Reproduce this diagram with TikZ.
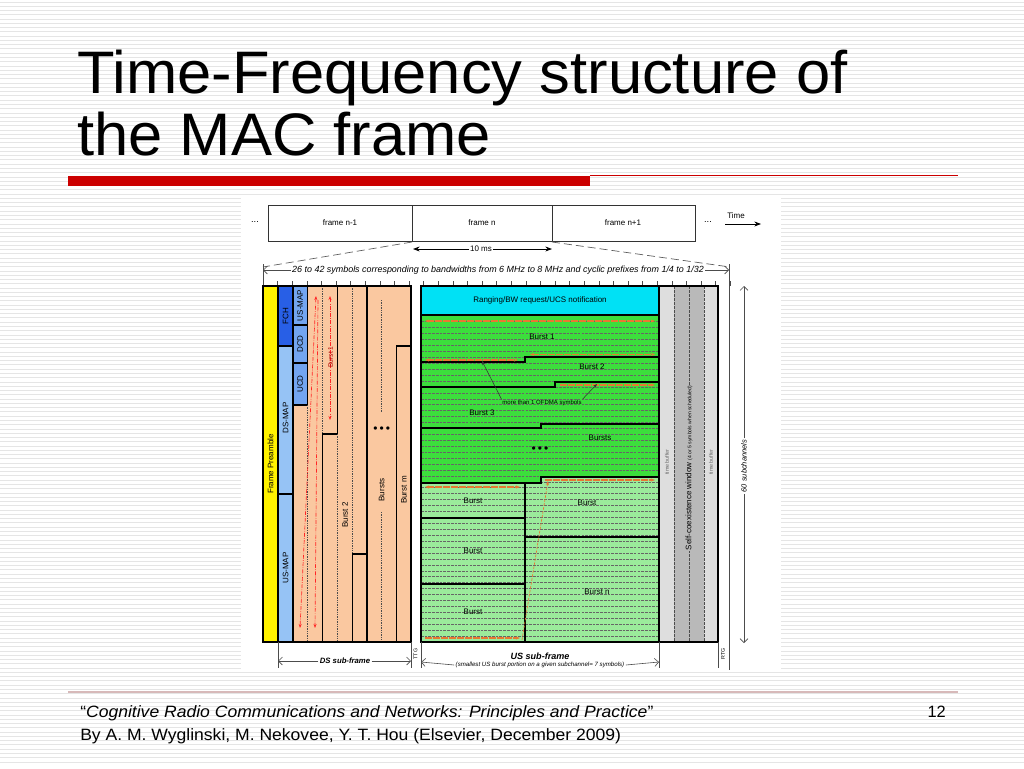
\documentclass[tikz,border=0pt]{standalone}
\usepackage{fontspec}
\setmainfont{Liberation Sans}
\usetikzlibrary{arrows.meta, positioning, calc}
\definecolor{slidered}{RGB}{204,0,0}
\definecolor{footrule}{RGB}{215,185,185}
\definecolor{peach}{RGB}{250,200,160}
\definecolor{dsblue}{RGB}{150,195,245}
\definecolor{mapblue}{RGB}{115,165,240}
\definecolor{fchblue}{RGB}{40,95,230}
\definecolor{rangecyan}{RGB}{0,225,245}
\definecolor{brightgreen}{RGB}{60,222,60}
\definecolor{palegreen}{RGB}{155,235,155}
\definecolor{bufgray}{RGB}{222,222,222}
\definecolor{wingray}{RGB}{185,185,185}
\definecolor{arrorange}{RGB}{232,120,50}

\begin{document}
\begin{tikzpicture}[x=0.75pt,y=-0.75pt,
  stripe/.style={black!10, line width=0.75pt},
  lbl/.style={font=\fontsize{6}{7}\selectfont, inner sep=0.5pt},
  tiny/.style={font=\fontsize{4}{5}\selectfont, inner sep=0.5pt},
  vlbl/.style={lbl, rotate=90},
  dimtxt/.style={font=\fontsize{5.6}{6.5}\selectfont\itshape, inner sep=1pt, fill=white},
  cell/.style={draw=black, line width=0.8pt},
  bnd/.style={black, line width=0.9pt},
  dots/.style={black!70, line width=0.5pt, dash pattern=on 1pt off 0.8pt},
  sub/.style={black!60, line width=0.35pt, dash pattern=on 2pt off 0.8pt},
  barb/.style={-{Straight Barb[length=3pt]}, black!70, line width=0.45pt},
  bigarr/.style={-{Stealth[length=5pt]}, black, line width=0.6pt},
  oarr/.style={-{Stealth[length=3pt]}, arrorange, line width=0.8pt, dash pattern=on 5pt off 1pt},
  oarrb/.style={oarr, {Stealth[length=3pt]}-{Stealth[length=3pt]}},
  rarr/.style={-{Stealth[length=3pt]}, red!85, line width=0.5pt, dash pattern=on 3pt off 1pt on 0.5pt off 1pt},
  rarrb/.style={rarr, {Stealth[length=3pt]}-{Stealth[length=3pt]}},
  foot/.style={anchor=base west, inner sep=0, xscale=1.07, font=\fontsize{12.3}{14}\selectfont}
]
\useasboundingbox (0,0) rectangle (1024,768);

% slide background
\fill[white] (0,0) rectangle (1024,768);
\foreach \yy in {2,6.27,...,766} \draw[stripe] (0,\yy) -- (1024,\yy);

% title and rules
\node[anchor=base west, inner sep=0, xscale=1.025, font=\fontsize{45}{50}\selectfont] (title1) at (77,93) {Time-Frequency structure of};
\node[anchor=base west, inner sep=0, xscale=1.025, font=\fontsize{45}{50}\selectfont] (title2) at (77,155) {the MAC frame};
\fill[slidered] (68,176) rectangle (590,186);
\draw[slidered, line width=0.9pt] (590,175.5) -- (958,175.5);

% figure area
\fill[white] (241,195) rectangle (781,672);

% ── frame sequence ──────────────────────────────────────
\draw[black!80, line width=0.5pt] (268,205) rectangle (695,241);
\draw[black!80, line width=0.5pt] (412,205) -- (412,241) (552,205) -- (552,241);
\node[lbl] (fprev) at (340,223) {frame n-1};
\node[lbl] (fcur)  at (482,223) {frame n};
\node[lbl] (fnext) at (623,223) {frame n+1};
\node[lbl, font=\fontsize{7}{7}\selectfont] (dotsl) at (255,222) {...};
\node[lbl, font=\fontsize{7}{7}\selectfont] (dotsr) at (708,222) {...};
\node[lbl] (time)  at (736,216) {Time};
\coordinate (tA) at (725,224);
\coordinate (tB) at (761,224);
\draw[bigarr] (tA) -- (tB);

\node[lbl, fill=white] (ten) at (481,249) {10 ms};
\coordinate (tenL) at (413,249);
\coordinate (tenR) at (552,249);
\draw[bigarr] (ten.west) -- (tenL);
\draw[bigarr] (ten.east) -- (tenR);

\coordinate (fnL) at (412,242);
\coordinate (fnR) at (552,242);
\coordinate (zL) at (263,267);
\coordinate (zR) at (730,267);
\draw[black!65, line width=0.5pt, dash pattern=on 6pt off 3pt] (fnL) -- (zL);
\draw[black!65, line width=0.5pt, dash pattern=on 6pt off 3pt] (fnR) -- (zR);

\node[dimtxt, font=\fontsize{6.7}{7.5}\selectfont\itshape] (sym) at (498,270) {26 to 42 symbols corresponding to bandwidths from 6 MHz to 8 MHz and cyclic prefixes from 1/4 to 1/32};
\coordinate (symL) at (263,270);
\coordinate (symR) at (729,270);
\draw[barb] (sym.west) -- (symL);
\draw[barb] (sym.east) -- (symR);
\draw[black!70, line width=0.45pt] (263,264) -- (263,286) (729,264) -- (729,670);
\foreach \k in {0,...,32} \draw[black!70, line width=0.45pt] ({263+\k*14.6},281) -- ({263+\k*14.6},286);

% ── DS sub-frame ────────────────────────────────────────
\draw[cell, fill=yellow] (263,286) rectangle (278,642);
\node[vlbl] (pre) at (270.5,464) {Frame Preamble};
\draw[cell, fill=fchblue] (278,286) rectangle (293,346);
\node[vlbl] (fch) at (285.5,316) {FCH};
\draw[cell, fill=dsblue] (278,346) rectangle (293,494);
\node[vlbl] (dsmap) at (285.5,418) {DS-MAP};
\draw[cell, fill=dsblue] (278,494) rectangle (293,642);
\node[vlbl] (usmap) at (285.5,568) {US-MAP};
\fill[peach] (293,286) rectangle (411,642);
\draw[cell, fill=mapblue] (293,286) rectangle (307.3,325);
\node[vlbl] (usmap2) at (300,305.5) {US-MAP};
\draw[cell, fill=mapblue] (293,325) rectangle (307.3,363);
\node[vlbl] (dcd) at (300,344) {DCD};
\draw[cell, fill=mapblue] (293,363) rectangle (307.3,405);
\node[vlbl] (ucd) at (300,384) {UCD};

\draw[dots] (307.3,405) -- (307.3,642);
\draw[dots] (322.7,286) -- (322.7,434);
\draw[bnd] (322.7,642) -- (322.7,434) -- (337.3,434) -- (337.3,286);
\draw[dots] (337.3,434) -- (337.3,642);
\draw[dots] (352.3,286) -- (352.3,554);
\draw[bnd] (352.3,642) -- (352.3,554) -- (367,554);
\draw[bnd] (367,286) -- (367,642);
\draw[dots] (381.7,300) -- (381.7,412);
\draw[dots] (381.7,512) -- (381.7,640);
\draw[bnd] (396.7,642) -- (396.7,346) -- (411,346);
\draw[cell] (293,286) rectangle (411,642);

\draw[rarrb] (316,296) -- (300,628);
\draw[rarr] (318,300) -- (315,628);
\draw[rarrb] (330,296) -- (330,420);
\node[vlbl, text=red!70!black, font=\fontsize{5}{6}\selectfont] (b1) at (330.5,357) {Burst 1};
\node[vlbl] (b2) at (345,515) {Burst 2};
\node[vlbl] (bs) at (381.7,490) {Bursts};
\node[vlbl] (bm) at (404,490) {Burst m};
\node[lbl, font=\fontsize{9}{9}\selectfont] (dsdots) at (381.7,430) {•\,•\,•};

% ── US sub-frame ────────────────────────────────────────
\fill[brightgreen] (421,315) -- (659,315) -- (659,477) -- (541,477) -- (541,483) -- (421,483) -- cycle;
\fill[palegreen] (421,483) -- (541,483) -- (541,477) -- (659,477) -- (659,642) -- (421,642) -- cycle;
\foreach \i in {6,...,59} \draw[sub] (421,{286+\i*5.933}) -- (659,{286+\i*5.933});
\draw[cell, fill=rangecyan] (421,286) rectangle (659,315);
\node[lbl] (rng) at (540,300.5) {Ranging/BW request/UCS notification};

\draw[bnd] (421,362) -- (525,362) -- (525,357) -- (659,357);
\draw[bnd] (421,387) -- (555,387) -- (555,382) -- (659,382);
\draw[bnd] (421,428) -- (541,428) -- (541,424) -- (659,424);
\draw[bnd] (421,483) -- (541,483) -- (541,477) -- (659,477);
\draw[bnd] (525,483) -- (525,642);
\draw[bnd] (421,518) -- (525,518);
\draw[bnd] (421,584) -- (525,584);
\draw[bnd] (525,537) -- (659,537);
\draw[cell] (421,286) rectangle (659,642);

\draw[oarrb] (425,321) -- (655,321);
\draw[oarrb] (425,360) -- (518,360);
\draw[oarrb] (530,354.5) -- (655,354.5);
\draw[oarr] (560,385) -- (655,385);
\draw[oarr] (545,480) -- (655,480);
\draw[oarrb] (425,487) -- (520,487);
\draw[oarr] (425,638) -- (520,638);
\draw[oarr, line width=0.5pt, dash pattern=on 2pt off 1pt] (522,640) -- (548,481);

\node[lbl] (u1) at (542,337) {Burst 1};
\node[lbl] (u2) at (592,367) {Burst 2};
\node[lbl] (u3) at (482,413) {Burst 3};
\node[lbl] (us) at (600,438) {Bursts};
\node[lbl, font=\fontsize{9}{9}\selectfont] (usdots) at (540,450) {•\,•\,•};
\node[tiny, font=\fontsize{4.5}{5}\selectfont] (more) at (542,403) {more than 1 OFDMA symbols};
\coordinate (b1edge) at (482,361);
\coordinate (b2edge) at (597,384);
\draw[-{Stealth[length=3pt]}, black!80, line width=0.4pt] (more.north west) -- (b1edge);
\draw[-{Stealth[length=3pt]}, black!80, line width=0.4pt] (more.north east) -- (b2edge);
\node[lbl] (u4) at (473,501) {Burst};
\node[lbl] (u5) at (587,503) {Burst};
\node[lbl] (u6) at (473,551) {Burst};
\node[lbl] (u7) at (473,612) {Burst};
\node[lbl] (un) at (597,592) {Burst n};

% ── self-coexistence window ─────────────────────────────
\fill[bufgray] (659,286) rectangle (718,642);
\fill[wingray] (674,286) rectangle (704,642);
\draw[black!70, line width=0.5pt, dash pattern=on 2pt off 1pt] (674,286) -- (674,642) (689,286) -- (689,642) (704,286) -- (704,642);
\draw[cell] (659,286) rectangle (718,642);
\node[tiny, rotate=90, text=black!60] (tb1) at (667,462) {time buffer};
\node[tiny, rotate=90, text=black!60] (tb2) at (711,462) {time buffer};
\node[lbl, rotate=90, fill=wingray] (scw) at (689,468) {Self-coexistence window {\fontsize{3.8}{4}\selectfont (4 or 5 symbols when scheduled)}};

\node[dimtxt, rotate=90] (sixty) at (744,466) {60 subchannels};
\coordinate (scT) at (744,286);
\coordinate (scB) at (744,643);
\draw[barb] (sixty.east) -- (scT);
\draw[barb] (sixty.west) -- (scB);

% ── bottom dimensions ───────────────────────────────────
\draw[black!70, line width=0.45pt] (278,642) -- (278,668) (411,642) -- (411,668) (421,642) -- (421,668) (659,642) -- (659,668) (718,642) -- (718,668);
\node[dimtxt, font=\fontsize{5.8}{7}\selectfont\bfseries\itshape] (dsf) at (345,661) {DS sub-frame};
\coordinate (dsL) at (278,661);
\coordinate (dsR) at (411,661);
\draw[barb] (dsf.west) -- (dsL);
\draw[barb] (dsf.east) -- (dsR);
\node[tiny, rotate=90] (ttg) at (415.5,654) {TTG};
\node[tiny, rotate=90] (rtg) at (723,654) {RTG};
\node[font=\fontsize{6.8}{8}\selectfont\bfseries\itshape, inner sep=0.5pt] (usf) at (540,656) {US sub-frame};
\node[dimtxt, font=\fontsize{4.6}{5.5}\selectfont\itshape] (usn) at (540,665) {(smallest US burst portion on a given subchannel= 7 symbols)};
\coordinate (usL) at (421,662);
\coordinate (usR) at (659,662);
\draw[barb] (usn.west) -- (usL);
\draw[barb] (usn.east) -- (usR);

% ── footer ──────────────────────────────────────────────
\draw[footrule, line width=0.9pt] (68,692) -- (958,692);
\node[foot] (cite1) at (80,717) {“\textit{Cognitive Radio Communications and Networks: Principles and Practice}”};
\node[foot] (cite2) at (80,740) {By A. M. Wyglinski, M. Nekovee, Y. T. Hou (Elsevier, December 2009)};
\node[anchor=base east, inner sep=0, font=\fontsize{12.3}{14}\selectfont] (pnum) at (946,717) {12};
\end{tikzpicture}
\end{document}
